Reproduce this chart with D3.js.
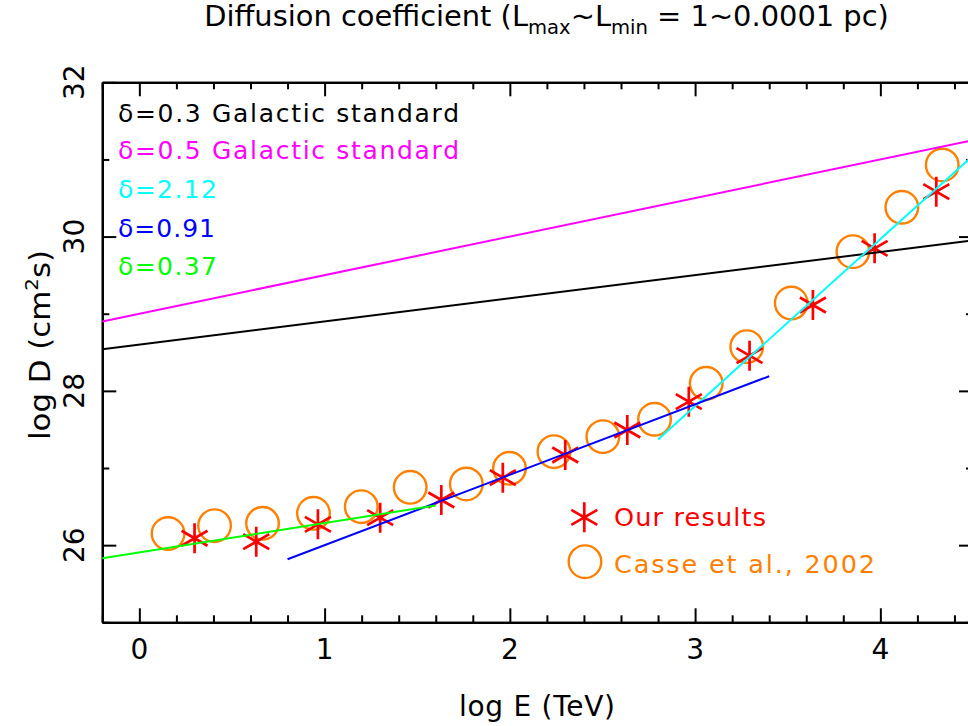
<!DOCTYPE html>
<html><head><meta charset="utf-8">
<script src="https://cdn.jsdelivr.net/npm/d3@7"></script>
<style>
body{margin:0;background:#fff}
svg{display:block}
text{font-family:"DejaVu Sans",sans-serif}
</style>
</head><body>
<svg id="c" width="968" height="726"></svg>
<script>
// ---- data ----
const ourE = [0.298,0.631,0.964,1.300,1.630,1.962,2.299,2.634,2.966,3.294,3.636,3.969,4.302];
const ourD = [26.089,26.045,26.270,26.356,26.585,26.875,27.169,27.493,27.860,28.456,29.113,29.848,30.582];
const casseE = [0.155,0.406,0.665,0.940,1.198,1.462,1.765,1.998,2.238,2.502,2.781,3.060,3.279,3.519,3.852,4.116,4.334];
const casseD = [26.151,26.252,26.283,26.413,26.499,26.750,26.793,26.996,27.212,27.406,27.632,28.098,28.573,29.139,29.804,30.380,30.928];
const fitLabels = ["δ=0.3 Galactic standard","δ=0.5 Galactic standard","δ=2.12","δ=0.91","δ=0.37"];
const fitStartE = [-0.2,-0.2,2.8,0.8,-0.2];
const fitStartD = [28.54,28.90,27.37,25.817,25.83];
const fitEndE = [4.5,4.5,4.5,3.4,1.6];
const fitEndD = [29.95,31.25,31.05,28.19,26.515];
const fitColors = ["#000000","#ff00ff","#00ffff","#0000ff","#00ff00"];
const xMajorTicks = [0,1,2,3,4];
const yMajorTicks = [26,28,30,32];
const seriesLabels = ["Our results","Casse et al., 2002"];
const titleParts = ["Diffusion coefficient (L","max","~L","min"," = 1~0.0001 pc)"];

// ---- layout ----
const svg = d3.select("#c");
const L = 102.3, T = 82.3, B = 622.3;
const x = d3.scaleLinear().domain([-0.2, 4.5]).range([L, L + 4.7 * 185.25]);
const y = d3.scaleLinear().domain([25, 32]).range([B, T]);
const R = x(4.5);
const RED = "#ff0000", ORANGE = "#ff8000";

function fitText(sel, target) {
  sel.attr("textLength", target).attr("lengthAdjust", "spacing");
  const w = sel.node().getComputedTextLength();
  if (w > target) sel.attr("lengthAdjust", "spacingAndGlyphs");
}
function scaleText(sel, target, cx) {
  const w = sel.node().getBBox().width;
  const s = target / w;
  sel.attr("transform", `translate(${cx},0) scale(${s},1) translate(${-cx},0)`);
}

// ---- axes ----
const minorX = d3.range(-1, 23).map(i => i / 5).filter(v => Math.abs(v - Math.round(v)) > 1e-6);
const minorY = [25, 27, 29, 31];

function styleAxis(g) {
  g.selectAll("path.domain").attr("stroke", "#000").attr("stroke-width", 2.2);
  g.selectAll(".tick line").attr("stroke", "#000").attr("stroke-width", 2);
  g.selectAll("text").remove();
}
const axes = [
  [d3.axisBottom(x).tickValues(xMajorTicks).tickSize(-14), `translate(0,${B})`],
  [d3.axisBottom(x).tickValues(minorX).tickSize(-7), `translate(0,${B})`],
  [d3.axisTop(x).tickValues(xMajorTicks).tickSize(-14), `translate(0,${T})`],
  [d3.axisTop(x).tickValues(minorX).tickSize(-7), `translate(0,${T})`],
  [d3.axisLeft(y).tickValues(yMajorTicks).tickSize(-14), `translate(${L},0)`],
  [d3.axisLeft(y).tickValues(minorY).tickSize(-7), `translate(${L},0)`],
  [d3.axisRight(y).tickValues(yMajorTicks).tickSize(-14), `translate(${R},0)`],
  [d3.axisRight(y).tickValues(minorY).tickSize(-7), `translate(${R},0)`]
];
axes.forEach(([ax, tr]) => {
  svg.append("g").attr("transform", tr).call(ax.tickSizeOuter(0)).call(styleAxis);
});

// tick labels
svg.append("g").selectAll("text").data(xMajorTicks).join("text")
  .attr("x", d => x(d)).attr("y", 659).attr("text-anchor", "middle")
  .attr("font-size", 28).text(d => d);
svg.append("g").selectAll("text").data(yMajorTicks).join("text")
  .attr("transform", d => `translate(84,${y(d)}) rotate(-90)`)
  .attr("text-anchor", "middle").attr("font-size", 28).text(d => d);

// axis titles
const xt = svg.append("text").attr("x", 537).attr("y", 716).attr("text-anchor", "middle")
  .attr("font-size", 28).text("log E (TeV)");
fitText(xt, 156);

const yg = svg.append("g").attr("transform", "translate(50,345) rotate(-90)");
const yt = yg.append("text").attr("x", 0).attr("y", 0).attr("text-anchor", "middle").attr("font-size", 28);
yt.append("tspan").text("log D (cm");
yt.append("tspan").attr("font-size", 18).attr("dy", -12).text("2");
yt.append("tspan").attr("dy", 12).text("s)");
scaleText(yt, 190, 0);

// title
const tt = svg.append("text").attr("x", 546.5).attr("y", 26).attr("text-anchor", "middle").attr("font-size", 28);
titleParts.forEach((p, i) => {
  const sub = i === 1 || i === 3;
  const prevSub = i === 2 || i === 4;
  tt.append("tspan").attr("font-size", sub ? 19 : 28)
    .attr("dy", sub ? 8 : (prevSub ? -8 : 0)).text(p);
});
scaleText(tt, 685, 546.5);

// ---- marks ----
const gC = svg.append("g");
gC.selectAll("circle").data(casseE.map((e, i) => [e, casseD[i]])).join("circle")
  .attr("cx", d => x(d[0])).attr("cy", d => y(d[1])).attr("r", 16.3)
  .attr("fill", "none").attr("stroke", ORANGE).attr("stroke-width", 2.4);

const star = d3.symbol(d3.symbolAsterisk, 636);
const gS = svg.append("g");
gS.selectAll("path").data(ourE.map((e, i) => [e, ourD[i]])).join("path")
  .attr("transform", d => `translate(${x(d[0])},${y(d[1])})`)
  .attr("d", star).attr("fill", "none").attr("stroke", RED).attr("stroke-width", 2.7);

const line = d3.line().x(d => x(d[0])).y(d => y(d[1]));
svg.append("g").selectAll("path").data(fitLabels.map((l, i) => i)).join("path")
  .attr("d", i => line([[fitStartE[i], fitStartD[i]], [fitEndE[i], fitEndD[i]]]))
  .attr("fill", "none").attr("stroke", i => fitColors[i]).attr("stroke-width", 2);

// ---- legends ----
const legBase = [121.7, 159.3, 198.3, 236.7, 275];
const legW = [341, 341, 99, 97, 99];
fitLabels.forEach((lab, i) => {
  const t = svg.append("text").attr("x", 118).attr("y", legBase[i])
    .attr("font-size", 25).attr("fill", fitColors[i]).text(lab);
  fitText(t, legW[i]);
});

svg.append("path").attr("transform", "translate(584.3,517.3)").attr("d", star)
  .attr("fill", "none").attr("stroke", RED).attr("stroke-width", 2.7);
svg.append("circle").attr("cx", 585).attr("cy", 561.7).attr("r", 16.3)
  .attr("fill", "none").attr("stroke", ORANGE).attr("stroke-width", 2.4);
const l1 = svg.append("text").attr("x", 614).attr("y", 526).attr("font-size", 25.5)
  .attr("fill", RED).text(seriesLabels[0]);
fitText(l1, 152);
const l2 = svg.append("text").attr("x", 614).attr("y", 572.7).attr("font-size", 25.5)
  .attr("fill", ORANGE).text(seriesLabels[1]);
fitText(l2, 261);
</script>
</body></html>
